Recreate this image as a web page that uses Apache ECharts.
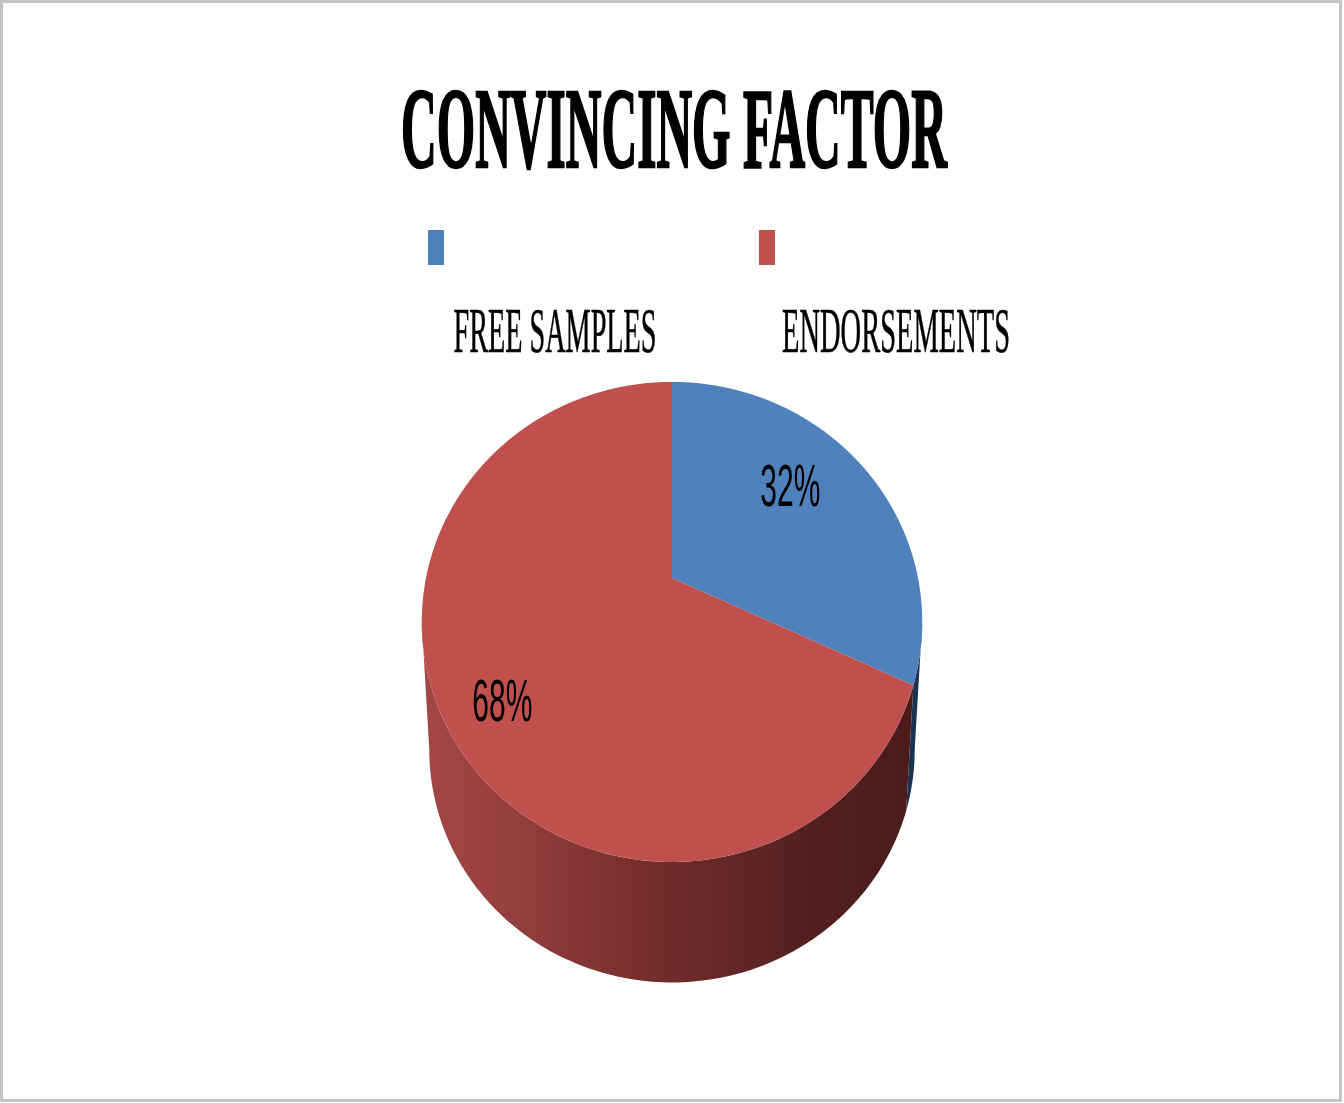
<!DOCTYPE html>
<html><head><meta charset="utf-8">
<script src="https://cdn.jsdelivr.net/npm/echarts@6/dist/echarts.min.js"></script>
<style>html,body{margin:0;padding:0;background:#fff}#c{width:1344px;height:1103px}</style>
</head><body><div id="c"></div>
<script>
// ---- data ----
const titleText = 'CONVINCING FACTOR';
const categories = ['FREE SAMPLES', 'ENDORSEMENTS'];
const values = [32, 68];
const valueLabels = ['32%', '68%'];

// ---- styling / layout ----
const topColors = ['#4f81bd', '#c0504d'];
const sideStops = [
  [[0, '#2f5380'], [1, '#1a3150']],
  [[0, '#a34745'], [0.12, '#9a4240'], [0.45, '#742e2d'], [0.78, '#521f1f'], [1, '#4a1b1b']]
];
const labelRadius = [0.66, 0.80];
const labelAngleShift = -6;
const CX = 672, VY = 578, A = 232, B = 246, P = 0.183;
const VY2 = 707, S2 = 0.97;
const LEFT = CX - 250, RIGHT = CX + 250;

function proj(deg, f, vy, sc) {
  const t = deg * Math.PI / 180, c = Math.cos(t), s = Math.sin(t);
  const d = 1 + P * f * c;
  return [CX + sc * B * f * s / d, vy - sc * A * f * c / d];
}
const total = values.reduce((a, b) => a + b, 0);
function sliceRange(i) {
  let start = 0;
  for (let k = 0; k < i; k++) start += values[k];
  return [start / total * 360, (start + values[i]) / total * 360];
}
const thL = Math.acos(-P) * 180 / Math.PI, thR = 360 - thL;

const cnv = document.createElement('canvas').getContext('2d');
function fitScale(text, font, width) { cnv.font = font; return width / cnv.measureText(text).width; }

const titleFont = 'bold 115px "Liberation Serif"';
const legendFont = '63px "Liberation Serif"';
const labelFont = '60px "Liberation Sans"';

const chart = echarts.init(document.getElementById('c'), null, { renderer: 'canvas' });
chart.setOption({
  backgroundColor: '#ffffff',
  animation: false,
  graphic: [
    { type: 'rect', shape: { x: 1.5, y: 1.5, width: 1339, height: 1099 }, style: { fill: 'none', stroke: '#c4c4c4', lineWidth: 3 }, silent: true },
    { type: 'text', x: 674, y: 137, scaleX: fitScale(titleText, titleFont, 546),
      style: { text: titleText, font: titleFont, fill: '#000', stroke: '#000', lineWidth: 2.5, align: 'center', verticalAlign: 'middle' } },
    { type: 'rect', shape: { x: 428, y: 230, width: 16, height: 35 }, style: { fill: topColors[0] } },
    { type: 'rect', shape: { x: 759, y: 230, width: 16, height: 35 }, style: { fill: topColors[1] } },
    { type: 'text', x: 555, y: 335, scaleX: fitScale(categories[0], legendFont, 203),
      style: { text: categories[0], font: legendFont, fill: '#000', stroke: '#000', lineWidth: 0.6, align: 'center', verticalAlign: 'middle' } },
    { type: 'text', x: 896, y: 335, scaleX: fitScale(categories[1], legendFont, 228),
      style: { text: categories[1], font: legendFont, fill: '#000', stroke: '#000', lineWidth: 0.6, align: 'center', verticalAlign: 'middle' } }
  ],
  series: [
    {
      type: 'custom', coordinateSystem: 'none', z: 1, silent: true,
      data: values,
      renderItem: function (params, api) {
        const i = params.dataIndex;
        const [a, b] = sliceRange(i);
        const s = Math.max(a, thL), e = Math.min(b, thR);
        if (s >= e) return { type: 'group', children: [] };
        const pts = [];
        const n = Math.max(2, Math.ceil(e - s));
        for (let k = 0; k <= n; k++) pts.push(proj(s + (e - s) * k / n, 1, VY, 1));
        for (let k = n; k >= 0; k--) pts.push(proj(s + (e - s) * k / n, 1, VY2, S2));
        return {
          type: 'polygon', shape: { points: pts },
          style: { fill: { type: 'linear', x: LEFT, y: 0, x2: RIGHT, y2: 0, global: true,
            colorStops: sideStops[i].map(([o, c]) => ({ offset: o, color: c })) } }
        };
      }
    },
    {
      type: 'custom', coordinateSystem: 'none', z: 2, silent: true,
      data: values,
      renderItem: function (params, api) {
        const i = params.dataIndex;
        const [a, b] = sliceRange(i);
        const pts = [[CX, VY]];
        const n = Math.ceil((b - a) * 2);
        for (let k = 0; k <= n; k++) pts.push(proj(a + (b - a) * k / n, 1, VY, 1));
        const mid = (a + b) / 2 + labelAngleShift;
        const lp = proj(mid, labelRadius[i], VY, 1);
        return {
          type: 'group',
          children: [
            { type: 'polygon', shape: { points: pts }, style: { fill: topColors[i] } },
            { type: 'text', x: lp[0], y: lp[1], scaleX: fitScale(valueLabels[i], labelFont, 60),
              style: { text: valueLabels[i], font: labelFont, fill: '#000', align: 'center', verticalAlign: 'middle' } }
          ]
        };
      }
    }
  ]
});
</script>
</body></html>
